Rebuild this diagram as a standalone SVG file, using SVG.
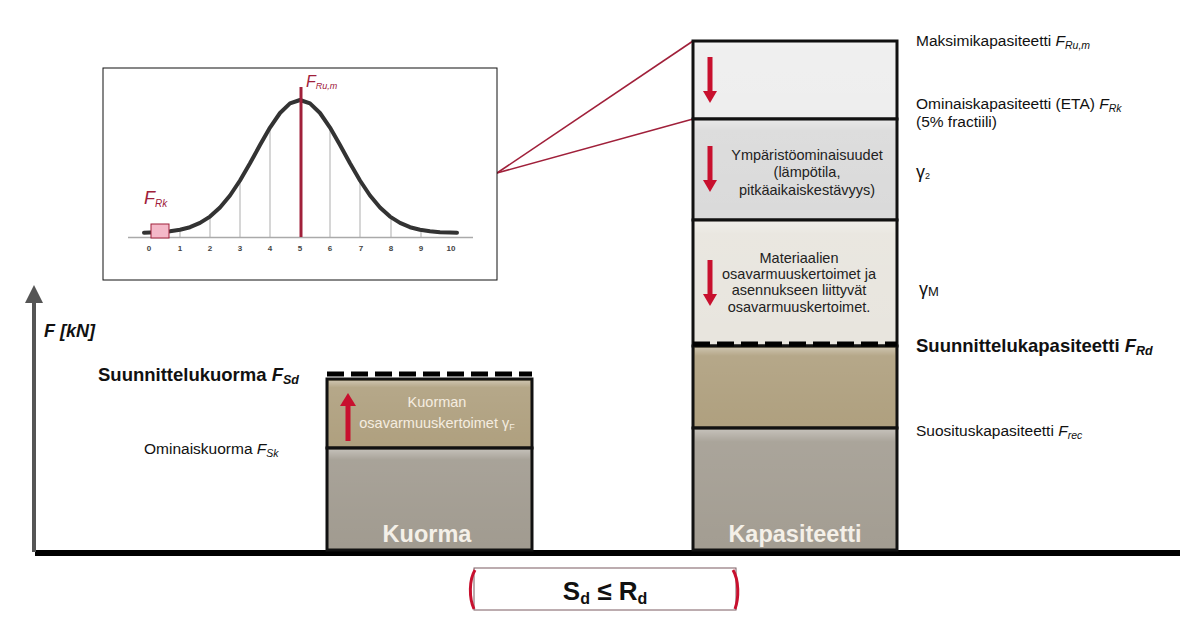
<svg xmlns="http://www.w3.org/2000/svg" width="1198" height="618" viewBox="0 0 1198 618">
<style>
.t{font-family:"Liberation Sans",Arial,sans-serif;fill:#111}
.n{font-size:15.5px}
.b{font-size:18.5px;font-weight:bold}
.in{font-size:14.5px;fill:#222;text-anchor:middle}
.lt{font-size:14.5px;fill:#F5EDE0;text-anchor:middle}
.big{font-size:23.5px;font-weight:bold;fill:#F4F0E8;text-anchor:middle}
.seg{stroke:#111;stroke-width:3}
.dash{stroke:#000;stroke-width:5;stroke-dasharray:17 7}
.red{fill:#C8102E}
.grid{stroke:#C8C8C8;stroke-width:1.5}
.tick{font-family:"Liberation Sans",Arial,sans-serif;font-size:8px;font-weight:bold;fill:#444;text-anchor:middle}
</style>
<defs>
<linearGradient id="bev" x1="0" y1="0" x2="0" y2="1">
<stop offset="0" stop-color="#fff" stop-opacity="0.35"/>
<stop offset="0.1" stop-color="#fff" stop-opacity="0.08"/>
<stop offset="1" stop-color="#fff" stop-opacity="0"/>
</linearGradient>
<g id="arrowDown"><rect x="-2.5" y="0" width="5" height="36" class="red"/><path d="M-7,34 L7,34 L0,46 Z" class="red"/></g>
</defs>

<!-- axes -->
<g id="axes">
<line x1="35" y1="553" x2="1180" y2="553" stroke="#000" stroke-width="6"/>
<line x1="34" y1="552" x2="34" y2="300" stroke="#555" stroke-width="4"/>
<path d="M25,303 L43,303 L34,285 Z" fill="#555"/>
<text x="44" y="337" class="t" font-size="18" font-weight="bold" font-style="italic">F [kN]</text>
</g>

<!-- connectors -->
<g id="connectors" stroke="#A0203A" stroke-width="1.6" fill="none">
<line x1="497" y1="173" x2="693" y2="41"/>
<line x1="497" y1="173" x2="693" y2="119"/>
</g>

<!-- inset -->
<g id="inset">
<rect x="103" y="68" width="394" height="212" fill="#fff" stroke="#111" stroke-width="1"/>
<g class="grid">
<line x1="180" y1="237" x2="180" y2="230"/>
<line x1="210" y1="237" x2="210" y2="217"/>
<line x1="240" y1="237" x2="240" y2="181"/>
<line x1="270" y1="237" x2="270" y2="128"/>
<line x1="330" y1="237" x2="330" y2="128"/>
<line x1="360" y1="237" x2="360" y2="181"/>
<line x1="391" y1="237" x2="391" y2="218"/>
<line x1="421" y1="237" x2="421" y2="230"/>
</g>
<line x1="128" y1="237.5" x2="473" y2="237.5" stroke="#AAA" stroke-width="1.5"/>
<polyline fill="none" stroke="#333" stroke-width="4" stroke-linejoin="round" stroke-linecap="round" points="144,232.8 150,232.6 160,232.2 170,231.3 180,229.8 190,227.2 200,222.9 210,216.6 220,207.5 230,195.5 240,180.5 250,163.3 260,145 270,127.6 280,113 290,103.4 300,100 310,103.4 320,113 330,127.6 340,145 350,163.3 360,180.5 370,195.5 380,207.5 390,216.6 400,222.9 410,227.2 420,229.8 430,231.3 440,232.2 450,232.6 457,232.8"/>
<line x1="301" y1="87" x2="301" y2="237" stroke="#A0203A" stroke-width="3"/>
<rect x="151" y="224" width="18" height="14" fill="#F4B8C8" stroke="#A0203A" stroke-width="1"/>
<g class="tick">
<text x="149" y="251">0</text><text x="180" y="251">1</text><text x="210" y="251">2</text><text x="240" y="251">3</text><text x="270" y="251">4</text><text x="300" y="251">5</text><text x="330" y="251">6</text><text x="361" y="251">7</text><text x="391" y="251">8</text><text x="421" y="251">9</text><text x="451" y="251">10</text>
</g>
<text x="144" y="204" font-family="Liberation Sans,Arial,sans-serif" font-style="italic" font-size="18" fill="#A0203A">F<tspan font-size="10" dy="3">Rk</tspan></text>
<text x="306" y="87" font-family="Liberation Sans,Arial,sans-serif" font-style="italic" font-size="16" fill="#A0203A">F<tspan font-size="9" dy="2">Ru,m</tspan></text>
</g>

<!-- Kuorma column -->
<g id="kuorma">
<rect x="327" y="379" width="205" height="69" fill="#AFA07F" class="seg"/>
<rect x="329" y="381" width="201" height="65" fill="url(#bev)"/>
<rect x="327" y="448" width="205" height="102" fill="#A19B90" class="seg"/>
<rect x="329" y="450" width="201" height="98" fill="url(#bev)"/>
<line x1="327" y1="374" x2="532" y2="374" class="dash"/>
<rect x="345.5" y="404" width="5" height="37" class="red"/>
<path d="M340,406 L356,406 L348,393 Z" class="red"/>
<text x="437" y="407" class="t lt">Kuorman</text>
<text x="437" y="428" class="t lt">osavarmuuskertoimet γ<tspan font-size="9" dy="2">F</tspan></text>
<text x="427" y="542" class="t big">Kuorma</text>
</g>

<!-- Kapasiteetti column -->
<g id="kapasiteetti">
<rect x="693" y="41" width="204" height="78" fill="#EEEEEE" class="seg"/>
<rect x="695" y="43" width="200" height="74" fill="url(#bev)"/>
<rect x="693" y="119" width="204" height="101" fill="#DADADA" class="seg"/>
<rect x="695" y="121" width="200" height="97" fill="url(#bev)"/>
<rect x="693" y="220" width="204" height="126" fill="#E8E5DE" class="seg"/>
<rect x="695" y="222" width="200" height="122" fill="url(#bev)"/>
<rect x="693" y="346" width="204" height="82" fill="#AFA07F" class="seg"/>
<rect x="695" y="348" width="200" height="78" fill="url(#bev)"/>
<rect x="693" y="428" width="204" height="122" fill="#A39D92" class="seg"/>
<rect x="695" y="430" width="200" height="118" fill="url(#bev)"/>
<line x1="693" y1="344" x2="897" y2="344" class="dash"/>
<use href="#arrowDown" x="710" y="57"/>
<use href="#arrowDown" x="710" y="146"/>
<use href="#arrowDown" x="710" y="260"/>
<text x="807" y="160" class="t in">Ympäristöominaisuudet</text>
<text x="807" y="177" class="t in">(lämpötila,</text>
<text x="807" y="195" class="t in">pitkäaikaiskestävyys)</text>
<text x="799" y="263" class="t in">Materiaalien</text>
<text x="799" y="279" class="t in">osavarmuuskertoimet ja</text>
<text x="799" y="295" class="t in">asennukseen liittyvät</text>
<text x="799" y="312" class="t in">osavarmuuskertoimet.</text>
<text x="795" y="542" class="t big">Kapasiteetti</text>
</g>

<!-- labels right -->
<g id="labels-right">
<text x="916" y="46" class="t n">Maksimikapasiteetti <tspan font-style="italic">F<tspan font-size="10.5" dy="3">Ru,m</tspan></tspan></text>
<text x="916" y="109" class="t n">Ominaiskapasiteetti (ETA) <tspan font-style="italic">F<tspan font-size="10.5" dy="3">Rk</tspan></tspan></text>
<text x="916" y="127" class="t n">(5% fractiili)</text>
<text x="916" y="178" class="t" font-size="18">γ<tspan font-size="9" dy="1">2</tspan></text>
<text x="919" y="295" class="t" font-size="18">γ<tspan font-size="13" dy="1">M</tspan></text>
<text x="916" y="352" class="t b">Suunnittelukapasiteetti <tspan font-style="italic">F<tspan font-size="12.5" dy="3">Rd</tspan></tspan></text>
<text x="916" y="436" class="t n">Suosituskapasiteetti <tspan font-style="italic">F<tspan font-size="10.5" dy="3">rec</tspan></tspan></text>
</g>

<!-- labels left -->
<g id="labels-left">
<text x="98" y="381" class="t b">Suunnittelukuorma <tspan font-style="italic">F<tspan font-size="12.5" dy="3">Sd</tspan></tspan></text>
<text x="144" y="454" class="t n">Ominaiskuorma <tspan font-style="italic">F<tspan font-size="10.5" dy="3">Sk</tspan></tspan></text>
</g>

<!-- equation -->
<g id="equation">
<rect x="474" y="568" width="262" height="42" fill="#fff" stroke="#7A5A60" stroke-width="1"/>
<path d="M475,570 C469,580 469,598 474,609" fill="none" stroke="#C8102E" stroke-width="3"/>
<path d="M733,570 C739,580 739,598 735,609" fill="none" stroke="#C8102E" stroke-width="3"/>
<text x="605" y="600" class="t" font-size="26" font-weight="bold" text-anchor="middle">S<tspan font-size="16" dy="4">d</tspan><tspan dy="-4"> ≤ R</tspan><tspan font-size="16" dy="4">d</tspan></text>
</g>
</svg>
